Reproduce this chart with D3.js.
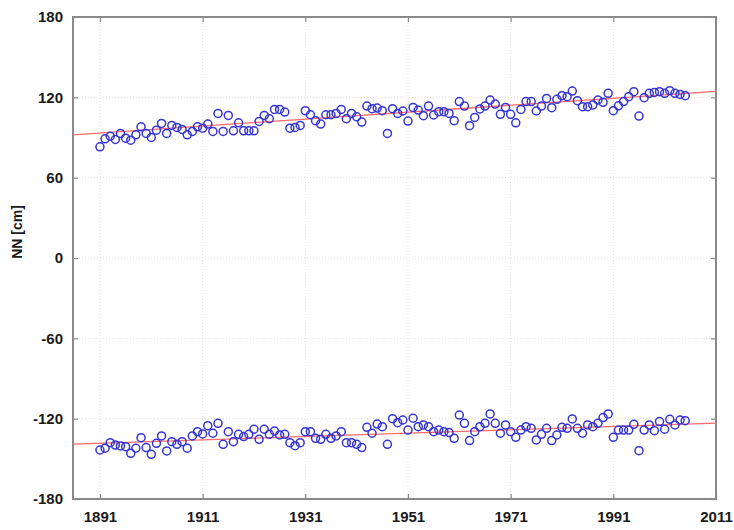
<!DOCTYPE html>
<html>
<head>
<meta charset="utf-8">
<script src="https://cdn.jsdelivr.net/npm/d3@7"></script>
<style>
  html, body { margin: 0; padding: 0; background: #ffffff; }
  svg { display: block; }
  text { font-family: "Liberation Sans", Arial, sans-serif; }
</style>
</head>
<body>
<svg id="chart" width="734" height="530"></svg>
<script>
// ---- data ----
const yearStart = 1891;
const upperValues = [
  83, 89, 91, 88.5, 93, 89.5, 88, 92, 98, 93,
  90, 95.5, 100.5, 93, 99, 97.5, 96, 92, 94.5, 98,
  97, 100, 94.5, 108, 94.5, 106.5, 95, 101, 95, 95,
  95, 102, 106.5, 104, 111, 111, 109, 97, 97.5, 99,
  110, 107, 102.5, 100, 107, 107, 108, 111, 104, 108,
  105.5, 101.5, 113.5, 111.5, 112, 110, 93,
  111.5, 108,
  109.8, 102.3, 112.5, 110.5, 106.3, 113.5, 106.8, 109.3, 109.3, 108,
  102.6, 116.8, 113.5, 98.8, 105, 111.3, 113.5, 118, 115, 107.3,
  112.5, 107.3, 101, 111, 116.8, 116.8, 109.8, 113.5, 119.2, 112.3,
  118.5, 121.2, 120.5, 124.7, 117.5, 113, 113, 114.3, 118, 116.3,
  123, 110, 113.7, 116.8, 120.5, 124.2, 106, 119.7, 123, 123.7,
  124.2, 123, 125, 123, 122.2, 121.2
];
const lowerValues = [
  -143.4, -142.1, -137.9, -139.7, -140.4, -140.9, -145.9, -142.1, -134.2, -141.6,
  -146.6, -138.4, -132.9, -144.1, -137.2, -139.2, -137.2, -142.1, -132.9, -129.7,
  -131.4, -125.2, -130.9, -123.5, -139.2, -129.7, -137.2, -131.7, -133.4, -131.7,
  -127.9, -135.4, -127.9, -131.7, -129.2, -132.2, -131.7, -137.9, -140.2, -137.9,
  -129.7, -129.7, -134.7, -135.4, -131.7, -134.7, -132.9, -129.7, -137.9, -137.9,
  -139.2, -141.6, -126.5, -130.9, -124, -126, -139.2,
  -120, -123,
  -121, -128.5, -119.7, -126, -124.7, -126, -129.7, -128.5, -129.7, -130.4,
  -134.7, -117.3, -123.5, -136.4, -129.7, -126, -123.5, -116.5, -123.5, -130.9,
  -124.7, -129.7, -133.9, -128.5, -126, -127.2, -135.9, -131.7, -127.2, -136.4,
  -132.2, -126.5, -127.2, -120.2, -127.2, -130.9, -124.7, -126, -123.5, -119.2,
  -116.5, -133.9, -128.5, -128.5, -128.5, -124.2, -143.9, -128.5, -124.7, -129,
  -122.2, -127.9, -120.5, -124.7, -121, -121.5
];
// trend lines: values at the two ends of the x range
const trendYears = [1885.75, 2011];
const upperTrend = [92, 124.5];
const lowerTrend = [-139, -123.3];

const xTicks = [1891, 1911, 1931, 1951, 1971, 1991, 2011];
const yTicks = [-180, -120, -60, 0, 60, 120, 180];
const yLabel = "NN [cm]";

// ---- layout ----
const mLeft = 73, mRight = 716, mTop = 17, mBottom = 499;
const svg = d3.select("#chart");

const x = d3.scaleLinear().domain([1885.75, 2011]).range([mLeft, mRight]);
const y = d3.scaleLinear().domain([-180, 180]).range([mBottom, mTop]);

// grid
const grid = svg.append("g");
grid.selectAll("line.gx").data(xTicks).join("line")
  .attr("class", "gx")
  .attr("x1", d => x(d)).attr("x2", d => x(d))
  .attr("y1", mTop).attr("y2", mBottom)
  .attr("stroke", "#dedede").attr("stroke-width", 1)
  .attr("stroke-dasharray", "1,2");
grid.selectAll("line.gy").data(yTicks).join("line")
  .attr("class", "gy")
  .attr("x1", mLeft).attr("x2", mRight)
  .attr("y1", d => y(d)).attr("y2", d => y(d))
  .attr("stroke", "#dedede").attr("stroke-width", 1)
  .attr("stroke-dasharray", "1,2");

// trend lines
const trendLine = vals => trendYears.map((t, i) => [x(t), y(vals[i])]);
svg.append("path").attr("d", d3.line()(trendLine(upperTrend)))
  .attr("stroke", "#ff6a6a").attr("stroke-width", 1.3).attr("fill", "none");
svg.append("path").attr("d", d3.line()(trendLine(lowerTrend)))
  .attr("stroke", "#ff6a6a").attr("stroke-width", 1.3).attr("fill", "none");

// points
function drawSeries(vals) {
  svg.append("g").selectAll("circle").data(vals).join("circle")
    .attr("cx", (d, i) => x(yearStart + i))
    .attr("cy", d => y(d))
    .attr("r", 4)
    .attr("fill", "none")
    .attr("stroke", "#3535d2")
    .attr("stroke-width", 1.5);
}
drawSeries(upperValues);
drawSeries(lowerValues);

// axes
const fmt = d => String(d);
const axL = svg.append("g").attr("transform", `translate(${mLeft},0)`)
  .call(d3.axisLeft(y).tickValues(yTicks).tickSize(-5).tickPadding(10).tickFormat(fmt));
const axR = svg.append("g").attr("transform", `translate(${mRight},0)`)
  .call(d3.axisRight(y).tickValues(yTicks).tickSize(-5).tickFormat(""));
const axB = svg.append("g").attr("transform", `translate(0,${mBottom})`)
  .call(d3.axisBottom(x).tickValues(xTicks).tickSize(-5).tickPadding(12).tickFormat(fmt));
const axT = svg.append("g").attr("transform", `translate(0,${mTop})`)
  .call(d3.axisTop(x).tickValues(xTicks).tickSize(-5).tickFormat(""));

[axL, axR, axB, axT].forEach(g => {
  g.select(".domain").remove();
  g.selectAll(".tick line").attr("stroke", "#888").attr("stroke-width", 1.2);
  g.selectAll(".tick text")
    .attr("fill", "#1a1a1a")
    .style("font-family", "'Liberation Sans', Arial, sans-serif")
    .style("font-size", "15px")
    .style("font-weight", "bold");
});

// frame
svg.append("rect")
  .attr("x", mLeft).attr("y", mTop)
  .attr("width", mRight - mLeft).attr("height", mBottom - mTop)
  .attr("fill", "none").attr("stroke", "#8a8a8a").attr("stroke-width", 2);

// y label
svg.append("text")
  .attr("transform", `translate(22,232) rotate(-90)`)
  .attr("text-anchor", "middle")
  .attr("fill", "#1a1a1a")
  .style("font-size", "14px")
  .style("font-weight", "bold")
  .text(yLabel);
</script>
</body>
</html>
